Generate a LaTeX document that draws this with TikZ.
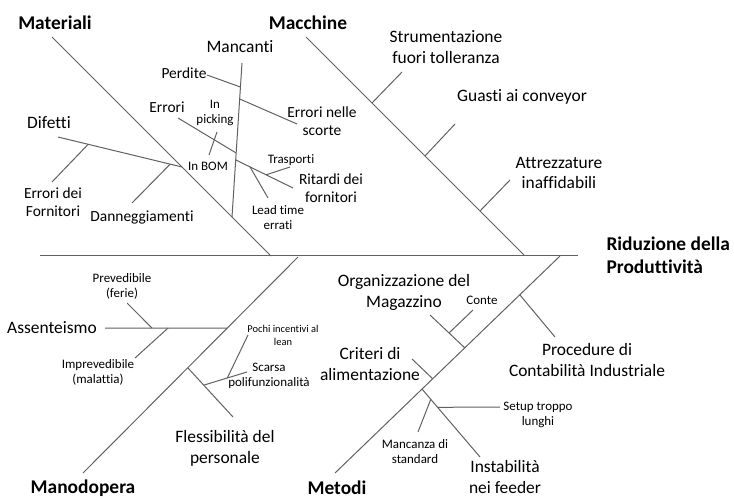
\documentclass[tikz,border=0pt]{standalone}
\usepackage{fontspec}
\setmainfont[Ligatures=NoCommon]{Carlito}
\usetikzlibrary{calc}

\begin{document}
\begin{tikzpicture}[x=1bp,y=-1bp,
    bone/.style={draw=black!62,line width=1bp},
    head/.style={font=\fontsize{19.5}{23}\selectfont\bfseries},
    big/.style={align=center,font=\fontsize{17.5}{21}\selectfont},
    mid/.style={align=center,font=\fontsize{15.5}{18}\selectfont},
    small/.style={align=center,font=\fontsize{13}{15}\selectfont},
    tiny/.style={align=center,font=\fontsize{10.5}{13}\selectfont}]
                \useasboundingbox (0,0) rectangle (734,500);
                %% spine and main bones
                \coordinate (sL) at (40,256);
                \coordinate (sR) at (578,256);
                \coordinate (mat1) at (52,37);
                \coordinate (mat2) at (271,256);
                \coordinate (mac1) at (306,37);
                \coordinate (mac2) at (524,255);
                \coordinate (man1) at (83,473);
                \coordinate (man2) at (298,257);
                \coordinate (met1) at (335,473);
                \coordinate (met2) at (560,256);
                \draw[bone] (sL) -- (sR);
                \draw[bone] (mat1) -- (mat2);
                \draw[bone] (mac1) -- (mac2);
                \draw[bone] (man1) -- (man2);
                \draw[bone] (met1) -- (met2);
                %% categories
                \node[head] (materiali) at (55,23) {Materiali};
                \node[head] (macchine) at (308,23) {Macchine};
                \node[head] (manodopera) at (83,488) {Manodopera};
                \node[head] (metodi) at (337,488) {Metodi};
                \node[head,align=left,anchor=west] (effetto) at (603,255) {Riduzione della\\Produttività};
                %% Macchine
                \coordinate (strJ) at ($(mac1)!(372,103)!(mac2)$);
                \coordinate (strE) at (402,72);
                \coordinate (guaJ) at ($(mac1)!(425,156)!(mac2)$);
                \coordinate (guaE) at (455,124);
                \coordinate (attJ) at ($(mac1)!(480,211)!(mac2)$);
                \coordinate (attE) at (510,180);
                \draw[bone] (strJ) -- (strE);
                \draw[bone] (guaJ) -- (guaE);
                \draw[bone] (attJ) -- (attE);
                \node[big] (strumentazione) at (446,47) {Strumentazione\\fuori tolleranza};
                \node[big] (guasti) at (522,97) {Guasti ai conveyor};
                \node[big] (attrezzature) at (559,173) {Attrezzature\\inaffidabili};
                %% Materiali
                \coordinate (mncE) at (242,63);
                \coordinate (mncJ) at ($(mat1)!(232,217)!(mat2)$);
                \draw[bone] (mncE) -- (mncJ);
                \node[big] (mancanti) at (240,47) {Mancanti};
                \node[mid] (perdite) at (184,73) {Perdite};
                \coordinate (perE) at (207,75);
                \coordinate (perJ) at ($(mncE)!(240,87)!(mncJ)$);
                \draw[bone] (perE) -- (perJ);
                \coordinate (scoJ) at ($(mncE)!(240,99)!(mncJ)$);
                \coordinate (scoE) at (297,124);
                \draw[bone] (scoJ) -- (scoE);
                \node[mid] (scorte) at (322,121) {Errori nelle\\scorte};
                \coordinate (errE) at (178,118);
                \coordinate (errJ) at ($(mncE)!(236,153)!(mncJ)$);
                \draw[bone] (errE) -- (errJ);
                \node[mid] (errori) at (167,107) {Errori};
                \coordinate (pckA) at (217,132);
                \coordinate (pckB) at (209,155);
                \draw[bone] (pckA) -- (pckB);
                \node[small] (picking) at (215,113) {In\\picking};
                \node[small] (bom) at (208,166) {In BOM};
                \coordinate (ritJ) at ($(mncE)!(237,160)!(mncJ)$);
                \coordinate (ritE) at (293,188);
                \draw[bone] (ritJ) -- (ritE);
                \node[mid] (ritardi) at (331,188) {Ritardi dei\\fornitori};
                \coordinate (traJ) at ($(ritJ)!(267,173)!(ritE)$);
                \coordinate (traE) at (290,167);
                \draw[bone] (traJ) -- (traE);
                \node[small] (trasporti) at (291,160) {Trasporti};
                \coordinate (leaJ) at ($(ritJ)!(250,167)!(ritE)$);
                \coordinate (leaE) at (268,198);
                \draw[bone] (leaJ) -- (leaE);
                \node[small] (lead) at (278,218) {Lead time\\errati};
                \coordinate (difE) at (58,137);
                \coordinate (difJ) at ($(mat1)!(182,167)!(mat2)$);
                \draw[bone] (difE) -- (difJ);
                \node[big] (difetti) at (49,123) {Difetti};
                \coordinate (forJ) at ($(difE)!(88,145)!(difJ)$);
                \coordinate (forE) at (52,182);
                \draw[bone] (forJ) -- (forE);
                \node[mid] (fornitori) at (53,202) {Errori dei\\Fornitori};
                \coordinate (danJ) at ($(difE)!(170,165)!(difJ)$);
                \coordinate (danE) at (132,203);
                \draw[bone] (danJ) -- (danE);
                \node[mid] (danneggiamenti) at (142,218) {Danneggiamenti};
                %% Manodopera
                \node[big] (assenteismo) at (52,328) {Assenteismo};
                \coordinate (assE) at (105,328);
                \coordinate (assJ) at ($(man1)!(227,328)!(man2)$);
                \draw[bone] (assE) -- (assJ);
                \coordinate (preJ) at ($(assE)!(152,328)!(assJ)$);
                \coordinate (preE) at (127,303);
                \draw[bone] (preJ) -- (preE);
                \node[small] (prevedibile) at (122,286) {Prevedibile\\(ferie)};
                \coordinate (impJ) at ($(assE)!(168,328)!(assJ)$);
                \coordinate (impE) at (135,358);
                \draw[bone] (impJ) -- (impE);
                \node[small] (imprevedibile) at (98,372) {Imprevedibile\\(malattia)};
                \coordinate (flsJ) at ($(man1)!(188,368)!(man2)$);
                \coordinate (flsE) at (233,417);
                \draw[bone] (flsJ) -- (flsE);
                \node[big] (flessibilita) at (225,448) {Flessibilità del\\personale};
                \coordinate (scaJ) at ($(flsJ)!(205,384)!(flsE)$);
                \coordinate (scaE) at (247,372);
                \draw[bone] (scaJ) -- (scaE);
                \node[small] (scarsa) at (269,376) {Scarsa\\polifunzionalità};
                \coordinate (pocJ) at ($(scaJ)!(227,377)!(scaE)$);
                \coordinate (pocE) at (248,335);
                \draw[bone] (pocJ) -- (pocE);
                \node[tiny] (pochi) at (283,335) {Pochi incentivi al\\lean};
                %% Metodi
                \coordinate (proJ) at ($(met1)!(520,295)!(met2)$);
                \coordinate (proE) at (555,337);
                \draw[bone] (proJ) -- (proE);
                \node[big] (procedure) at (587,360) {Procedure di\\Contabilità Industriale};
                \coordinate (orgE) at (430,315);
                \coordinate (orgJ) at ($(met1)!(463,346)!(met2)$);
                \draw[bone] (orgE) -- (orgJ);
                \node[big] (organizzazione) at (404,292) {Organizzazione del\\Magazzino};
                \coordinate (conJ) at ($(orgE)!(449,333)!(orgJ)$);
                \coordinate (conE) at (473,310);
                \draw[bone] (conJ) -- (conE);
                \node[small] (conte) at (482,300) {Conte};
                \coordinate (criE) at (412,359);
                \coordinate (criJ) at ($(met1)!(431,377)!(met2)$);
                \draw[bone] (criE) -- (criJ);
                \node[big] (criteri) at (370,364) {Criteri di\\alimentazione};
                \coordinate (insJ) at ($(met1)!(421,388)!(met2)$);
                \coordinate (insE) at (480,457);
                \draw[bone] (insJ) -- (insE);
                \node[big] (instabilita) at (505,477) {Instabilità\\nei feeder};
                \coordinate (setJ) at ($(insJ)!(438,407)!(insE)$);
                \coordinate (setE) at (500,407);
                \draw[bone] (setJ) -- (setE);
                \node[small] (setup) at (538,415) {Setup troppo\\lunghi};
                \coordinate (stdJ) at ($(insJ)!(430,400)!(insE)$);
                \coordinate (stdE) at (418,432);
                \draw[bone] (stdJ) -- (stdE);
                \node[small] (standard) at (415,452) {Mancanza di\\standard};
            \end{tikzpicture}
\end{document}
